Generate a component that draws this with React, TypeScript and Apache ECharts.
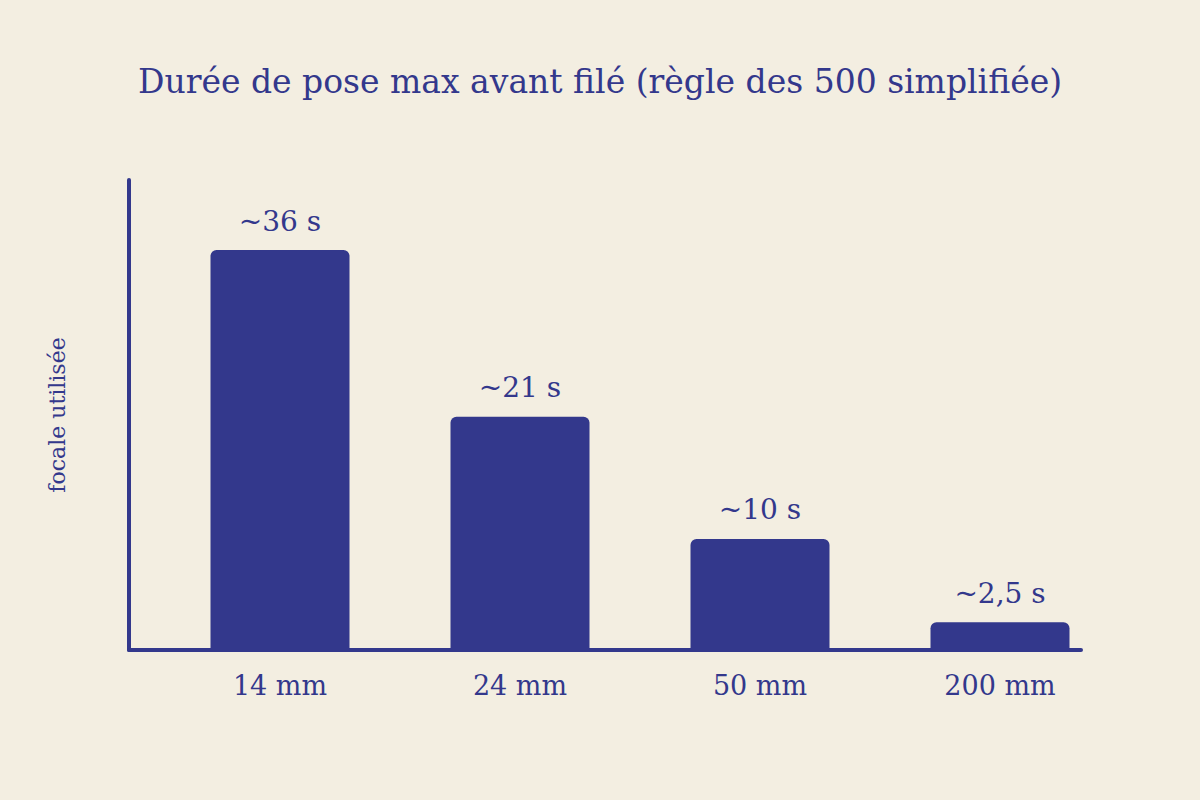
import React, { useEffect, useRef } from "react";
import * as echarts from "echarts";

const categories = ["14 mm", "24 mm", "50 mm", "200 mm"];
const values = [36, 21, 10, 2.5];
const valueLabels = ["~36 s", "~21 s", "~10 s", "~2,5 s"];

const BG = "#F3EEE1";
const BLUE = "#33388C";
const FONT = "Georgia, 'DejaVu Serif', 'Liberation Serif', serif";

export default function App() {
  const ref = useRef<HTMLDivElement>(null);
  useEffect(() => {
    document.body.style.margin = "0";
    document.body.style.background = BG;
    if (!ref.current) return;
    const chart = echarts.init(ref.current, undefined, { renderer: "svg" });
    chart.setOption({
      animation: false,
      backgroundColor: BG,
      title: {
        text: "Durée de pose max avant filé (règle des 500 simplifiée)",
        left: "center",
        top: 60,
        textStyle: { fontFamily: FONT, fontSize: 33, fontWeight: "normal", color: BLUE },
      },
      grid: { left: 160, top: 180, width: 960, height: 470 },
      xAxis: {
        type: "category",
        data: categories,
        axisLine: { show: false },
        axisTick: { show: false },
        axisLabel: { fontFamily: FONT, fontSize: 27, color: BLUE, margin: 22 },
      },
      yAxis: {
        type: "value",
        min: 0,
        max: 42.3,
        name: "focale utilisée",
        nameLocation: "middle",
        nameGap: 92,
        nameRotate: 90,
        nameTextStyle: { fontFamily: FONT, fontSize: 22, color: BLUE },
        axisLine: { show: false },
        axisTick: { show: false },
        axisLabel: { show: false },
        splitLine: { show: false },
      },
      graphic: [
        {
          type: "line",
          shape: { x1: 129, y1: 180, x2: 129, y2: 650 },
          style: { stroke: BLUE, lineWidth: 4, lineCap: "round" },
          z: 10,
        },
        {
          type: "line",
          shape: { x1: 129, y1: 650, x2: 1081, y2: 650 },
          style: { stroke: BLUE, lineWidth: 4, lineCap: "round" },
          z: 10,
        },
      ],
      series: [
        {
          type: "bar",
          data: values,
          barWidth: 139,
          itemStyle: { color: BLUE, borderRadius: [6, 6, 0, 0] },
          label: {
            show: true,
            position: "top",
            distance: 15,
            fontFamily: FONT,
            fontSize: 28,
            color: BLUE,
            formatter: (p: any) => valueLabels[p.dataIndex],
          },
        },
      ],
    });
    return () => chart.dispose();
  }, []);
  return <div ref={ref} style={{ width: 1200, height: 800 }} />;
}
